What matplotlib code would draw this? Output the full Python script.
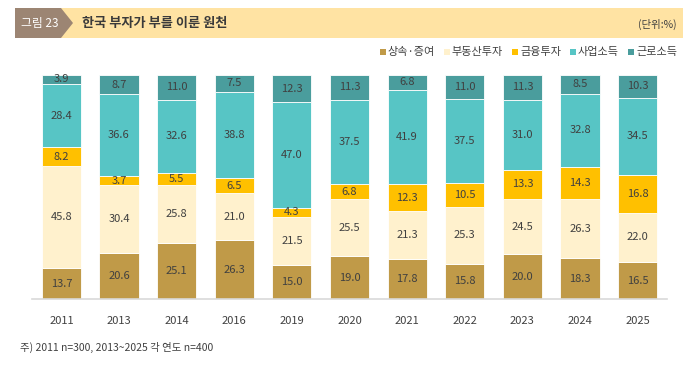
import matplotlib.pyplot as plt
from matplotlib.patches import Polygon, Rectangle
import numpy as np

plt.rcParams["font.family"] = ["Noto Sans CJK KR", "DejaVu Sans"]

years = ["2011", "2013", "2014", "2016", "2019", "2020", "2021", "2022", "2023", "2024", "2025"]
inherit = [13.7, 20.6, 25.1, 26.3, 15.0, 19.0, 17.8, 15.8, 20.0, 18.3, 16.5]
realestate = [45.8, 30.4, 25.8, 21.0, 21.5, 25.5, 21.3, 25.3, 24.5, 26.3, 22.0]
finance = [8.2, 3.7, 5.5, 6.5, 4.3, 6.8, 12.3, 10.5, 13.3, 14.3, 16.8]
business = [28.4, 36.6, 32.6, 38.8, 47.0, 37.5, 41.9, 37.5, 31.0, 32.8, 34.5]
labor = [3.9, 8.7, 11.0, 7.5, 12.3, 11.3, 6.8, 11.0, 11.3, 8.5, 10.3]

series = [
    ("상속·증여", inherit, "#C09A48"),
    ("부동산투자", realestate, "#FFF1CD"),
    ("금융투자", finance, "#FFC000"),
    ("사업소득", business, "#57C5C5"),
    ("근로소득", labor, "#4A9D9D"),
]

W, H = 700, 366
fig = plt.figure(figsize=(7, 3.66), dpi=100)

# title banner
bg = fig.add_axes([0, 0, 1, 1])
bg.set_xlim(0, W)
bg.set_ylim(H, 0)
bg.axis("off")
bg.add_patch(Rectangle((15, 8), 668, 30, color="#FFE3A3", lw=0))
bg.add_patch(Polygon([(15, 8), (61, 8), (73, 23), (61, 38), (15, 38)], color="#9C8573", lw=0))
bg.text(21, 23.5, "그림 23", color="white", fontsize=8.5, va="center", ha="left")
bg.text(82, 23, "한국 부자가 부를 이룬 원천", color="#3A3A3A", fontsize=9.5,
        va="center", ha="left", fontweight="bold")
bg.text(677, 24, "(단위:%)", color="#404040", fontsize=7.5, va="center", ha="right")
bg.text(20, 347, "주) 2011 n=300, 2013~2025 각 연도 n=400", color="#404040",
        fontsize=7.5, va="center", ha="left")

# legend, laid out right to left so it ends at x=677
renderer = fig.canvas.get_renderer()
lx = 677
for name, _, color in reversed(series):
    t = bg.text(lx, 52, name, color="#404040", fontsize=8, va="center", ha="right")
    width = t.get_window_extent(renderer).width
    lx -= width + 2
    bg.add_patch(Rectangle((lx - 6, 49), 6, 6, color=color, lw=0))
    lx -= 6 + 9

# chart
ax = fig.add_axes([32 / W, 1 - 299 / H, (667 - 32) / W, (299 - 75) / H])
x = np.arange(len(years))
bottom = np.zeros(len(years))
for name, vals, color in series:
    vals = np.array(vals)
    ax.bar(x, vals, 0.68, bottom=bottom, color=color, edgecolor="white", linewidth=0.6)
    for xi, b, v in zip(x, bottom, vals):
        ax.text(xi, b + v / 2, f"{v:.1f}", ha="center", va="center",
                fontsize=8, color="#404040")
    bottom += vals

ax.set_xlim(-0.51, 10.51)
ax.set_ylim(0, 100)
ax.set_yticks([])
ax.set_xticks(x)
ax.set_xticklabels(years, fontsize=8, color="#404040")
ax.tick_params(axis="x", length=0, pad=12)
for s in ["top", "right", "left"]:
    ax.spines[s].set_visible(False)
ax.spines["bottom"].set_color("#D9D9D9")
ax.spines["bottom"].set_linewidth(1.2)

fig.savefig("out.png", dpi=100)
